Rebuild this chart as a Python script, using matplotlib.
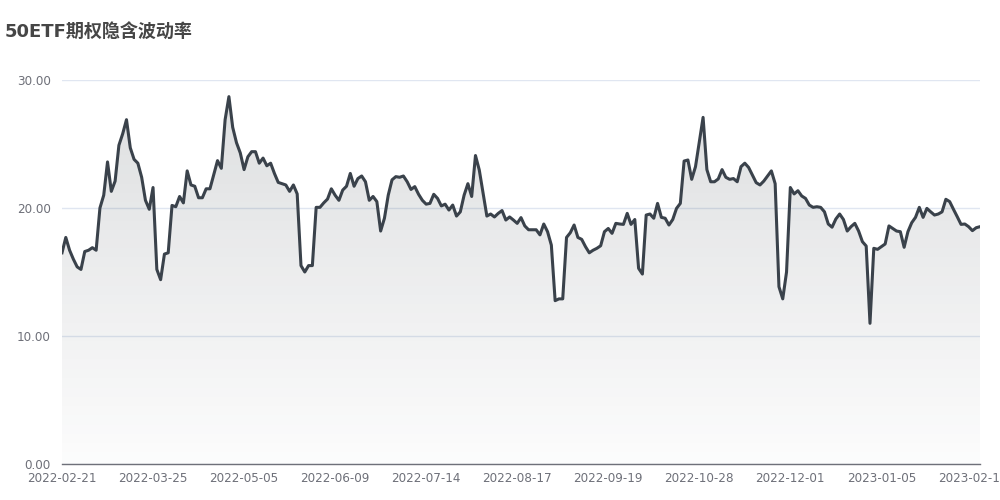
import matplotlib
matplotlib.use("Agg")
import matplotlib.pyplot as plt
import numpy as np
from matplotlib.colors import LinearSegmentedColormap

title = "50ETF期权隐含波动率"

tick_labels = ["2022-02-21", "2022-03-25", "2022-05-05", "2022-06-09", "2022-07-14",
               "2022-08-17", "2022-09-19", "2022-10-28", "2022-12-01", "2023-01-05",
               "2023-02-15"]
label_step = 24

iv_values = [
    16.5, 17.7, 16.7, 16.0, 15.4, 15.2, 16.6, 16.7, 16.9, 16.7,
    20.0, 21.0, 23.6, 21.3, 22.1, 24.9, 25.8, 26.9, 24.7, 23.8,
    23.5, 22.4, 20.6, 19.9, 21.6, 15.2, 14.4, 16.4, 16.5, 20.2,
    20.1, 20.9, 20.4, 22.9, 21.8, 21.7, 20.8, 20.8, 21.5, 21.5,
    22.6, 23.7, 23.1, 26.9, 28.7, 26.3, 25.1, 24.3, 23.0, 24.0,
    24.4, 24.4, 23.5, 23.9, 23.3, 23.5, 22.7, 22.0, 21.9, 21.8,
    21.3, 21.8, 21.1, 15.5, 15.0, 15.5, 15.5, 20.05, 20.05, 20.4,
    20.7, 21.5, 21.0, 20.6, 21.4, 21.7, 22.7, 21.7, 22.3, 22.5,
    22.05, 20.6, 20.9, 20.5, 18.2, 19.2, 21.0, 22.2, 22.45, 22.4,
    22.5, 22.05, 21.45, 21.67, 21.07, 20.6, 20.3, 20.36, 21.07, 20.75,
    20.16, 20.3, 19.84, 20.23, 19.37, 19.7, 21.0, 21.9, 20.9, 24.1,
    22.97, 21.15, 19.37, 19.53, 19.3, 19.58, 19.8, 19.06, 19.3, 19.06,
    18.8, 19.25, 18.6, 18.3, 18.3, 18.3, 17.9, 18.75, 18.15, 17.1,
    12.76, 12.9, 12.9, 17.7, 18.07, 18.67, 17.7, 17.55, 16.98, 16.5,
    16.7, 16.85, 17.05, 18.15, 18.4, 18.02, 18.8, 18.75, 18.72, 19.58,
    18.72, 19.1, 15.29, 14.84, 19.45, 19.53, 19.2, 20.36, 19.27, 19.2,
    18.67, 19.1, 19.97, 20.36, 23.67, 23.75, 22.24, 23.23, 25.18, 27.08,
    23.0, 22.05, 22.05, 22.27, 23.0, 22.4, 22.24, 22.3, 22.05, 23.23,
    23.5, 23.17, 22.58, 21.98, 21.8, 22.1, 22.5, 22.9, 21.9, 13.85,
    12.9, 15.0, 21.6, 21.1, 21.35, 20.94, 20.75, 20.23, 20.05, 20.1,
    20.05, 19.7, 18.75, 18.5, 19.14, 19.53, 19.1, 18.2, 18.54, 18.8,
    18.2, 17.37, 17.03, 10.99, 16.85, 16.77, 16.98, 17.19, 18.6, 18.4,
    18.2, 18.15, 16.93, 18.15, 18.85, 19.27, 20.05, 19.27, 19.97, 19.7,
    19.45, 19.53, 19.7, 20.68, 20.5, 19.9, 19.32, 18.72, 18.75, 18.54,
    18.23, 18.46, 18.54,
]

line_color = "#3a424b"
grid_color = "#e0e6f1"
axis_label_color = "#6e7079"

fig = plt.figure(figsize=(10, 5), dpi=100)
ax = fig.add_axes([0.062, 0.072, 0.918, 0.768])

x = np.arange(len(iv_values))
y = np.array(iv_values)

ax.set_xlim(0, len(iv_values) - 1)
ax.set_ylim(0, 30)

# gradient fill under the line
ymax = y.max()
cmap = LinearSegmentedColormap.from_list(
    "g", [(0.0, (0.227, 0.259, 0.294, 0.015)), (1.0, (0.227, 0.259, 0.294, 0.17))])
grad = np.linspace(0, 1, 256).reshape(-1, 1)
poly = ax.fill_between(x, y, 0, color="none", lw=0)
img = ax.imshow(grad, cmap=cmap, aspect="auto", origin="lower",
                extent=[0, len(iv_values) - 1, 0, ymax], zorder=1)
path = poly.get_paths()[0]
img.set_clip_path(path, transform=ax.transData)

ax.plot(x, y, color=line_color, lw=2.2, zorder=3, solid_joinstyle="round")

ax.set_yticks([0, 10, 20, 30])
ax.set_yticklabels(["0.00", "10.00", "20.00", "30.00"])
ax.set_xticks(np.arange(len(tick_labels)) * label_step)
ax.set_xticklabels(tick_labels)

ax.grid(axis="y", color=grid_color, lw=1)
ax.set_axisbelow(True)
for s in ["top", "right", "left"]:
    ax.spines[s].set_visible(False)
ax.spines["bottom"].set_color(axis_label_color)
ax.spines["bottom"].set_linewidth(1)
ax.spines["bottom"].set_zorder(4)
ax.tick_params(axis="both", length=0, labelsize=8.64, colors=axis_label_color)
ax.tick_params(axis="y", pad=8)
ax.tick_params(axis="x", pad=6)

fig.text(0.005, 0.935, title, fontsize=13, fontweight="bold", color="#464646",
         family=["DejaVu Sans", "Noto Sans CJK SC"], va="center", ha="left")

fig.savefig("out.png", dpi=100)
